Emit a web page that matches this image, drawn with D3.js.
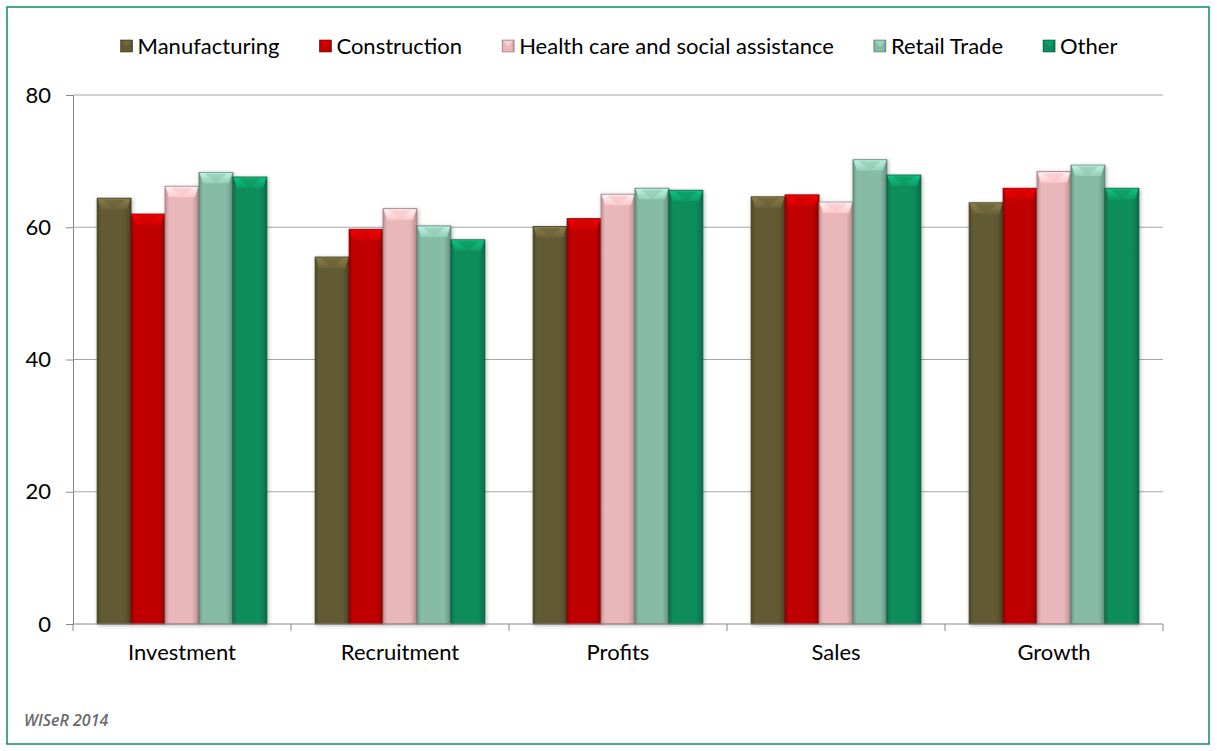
<!DOCTYPE html>
<html><head><meta charset="utf-8">
<script src="https://cdn.jsdelivr.net/npm/d3@7"></script>
<style>
html,body{margin:0;padding:0;background:#fff;}
svg{display:block;font-family:Lato,"Open Sans",sans-serif;}
</style></head>
<body>
<svg id="chart" width="1217" height="751"></svg>
<script>
const categories = ["Investment","Recruitment","Profits","Sales","Growth"];
const seriesNames = ["Manufacturing","Construction","Health care and social assistance","Retail Trade","Other"];
const manufacturing = [64.4, 55.5, 60.1, 64.6, 63.7];
const construction  = [62.0, 59.7, 61.3, 64.9, 65.9];
const healthCare    = [66.2, 62.8, 65.0, 63.8, 68.4];
const retailTrade   = [68.3, 60.2, 65.9, 70.2, 69.4];
const other         = [67.6, 58.1, 65.6, 67.9, 65.9];
const yTicks = [0, 20, 40, 60, 80];
const footnote = "WISeR 2014";

const seriesValues = [manufacturing, construction, healthCare, retailTrade, other];
const colors = ["#625a33","#c00000","#e9b6b9","#86bca5","#0b8c5c"];

const svg = d3.select("#chart");
const W = 1217, H = 751;
const m = {left:73, right:1163, top:95, bottom:624};
const FS = 22;

// outer border
svg.append("rect").attr("x",7).attr("y",7).attr("width",W-15).attr("height",H-14)
  .attr("fill","#fff").attr("stroke","#118a5e").attr("stroke-width",1.5);

const defs = svg.append("defs");
colors.forEach((c,i)=>{
  const g = defs.append("linearGradient").attr("id","g"+i).attr("x1","0").attr("x2","1").attr("y1","0").attr("y2","0");
  const base = d3.color(c);
  g.append("stop").attr("offset","0%").attr("stop-color",base.darker(0.6));
  g.append("stop").attr("offset","12%").attr("stop-color",base);
  g.append("stop").attr("offset","80%").attr("stop-color",base);
  g.append("stop").attr("offset","100%").attr("stop-color",base.darker(0.7));
  const v = defs.append("linearGradient").attr("id","v"+i).attr("x1","0").attr("x2","0").attr("y1","0").attr("y2","1");
  v.append("stop").attr("offset","0%").attr("stop-color",base.brighter(1.1));
  v.append("stop").attr("offset","100%").attr("stop-color",base.brighter(0.3));
});
const filt = defs.append("filter").attr("id","sh").attr("x","-20%").attr("y","-10%").attr("width","140%").attr("height","120%");
filt.append("feGaussianBlur").attr("in","SourceAlpha").attr("stdDeviation",2);
filt.append("feOffset").attr("dx",1).attr("dy",1).attr("result","b");
filt.append("feComponentTransfer").append("feFuncA").attr("type","linear").attr("slope",0.3);
const fm = filt.append("feMerge"); fm.append("feMergeNode"); fm.append("feMergeNode").attr("in","SourceGraphic");

const x0 = d3.scaleBand().domain(categories).range([m.left, m.right]).paddingInner(0).paddingOuter(0);
const x1 = d3.scaleBand().domain(seriesNames).range([0, x0.bandwidth()]).paddingOuter(0.71).paddingInner(0);
const y = d3.scaleLinear().domain([0,80]).range([m.bottom, m.top]);

// gridlines
svg.append("g").selectAll("line").data(yTicks.filter(t=>t>0)).join("line")
  .attr("x1",m.left).attr("x2",m.right).attr("y1",d=>y(d)).attr("y2",d=>y(d))
  .attr("stroke","#a6a6a6").attr("stroke-width",1);

// y axis
const yAxis = svg.append("g").attr("transform",`translate(${m.left},0)`)
  .call(d3.axisLeft(y).tickValues(yTicks).tickSize(7).tickPadding(15).tickFormat(d3.format("d")));
yAxis.select(".domain").attr("stroke","#888");
yAxis.selectAll(".tick line").attr("stroke","#888");
yAxis.selectAll("text").attr("font-size",FS).attr("fill","#000").attr("font-family","Lato,'Open Sans',sans-serif");

// bars
const groups = svg.append("g").selectAll("g").data(categories).join("g")
  .attr("transform",d=>`translate(${x0(d)},0)`);
groups.each(function(cat, ci){
  const g = d3.select(this);
  seriesNames.forEach((s, si)=>{
    const v = seriesValues[si][ci];
    const bx = x1(s), bw = x1.bandwidth(), by = y(v), bh = y(0)-y(v);
    const bar = g.append("g").attr("filter","url(#sh)");
    bar.append("rect").attr("x",bx).attr("y",by).attr("width",bw).attr("height",bh)
      .attr("fill",`url(#g${si})`).attr("stroke",d3.color(colors[si]).darker(1.2)).attr("stroke-width",0.8);
    const bev = 11;
    bar.append("path")
      .attr("d",`M${bx+0.5},${by+0.5} L${bx+bw-0.5},${by+0.5} L${bx+bw-4},${by+bev} L${bx+4},${by+bev} Z`)
      .attr("fill",`url(#v${si})`).attr("opacity",0.85);
    bar.append("path")
      .attr("d",`M${bx+bw*0.18},${by+1.5} L${bx+bw*0.82},${by+1.5} L${bx+bw/2},${by+bev} Z`)
      .attr("fill",d3.color(colors[si]).brighter(0.2)).attr("opacity",0.7);
  });
});

// x axis
const xAxis = svg.append("g").attr("transform",`translate(0,${m.bottom})`)
  .call(d3.axisBottom(x0).tickSize(0).tickPadding(20));
xAxis.select(".domain").attr("stroke","#888").attr("d",`M${m.left},0H${m.right}`);
xAxis.selectAll("text").attr("font-size",FS).attr("fill","#000").attr("font-family","Lato,'Open Sans',sans-serif");
const edges = categories.map(c=>x0(c)).concat([m.right]);
svg.append("g").selectAll("line").data(edges).join("line")
  .attr("x1",d=>d).attr("x2",d=>d).attr("y1",m.bottom).attr("y2",m.bottom+7).attr("stroke","#888");

// legend
const leg = svg.append("g");
const items = leg.selectAll("g").data(seriesNames).join("g");
items.append("rect").attr("width",12).attr("height",12).attr("y",-6)
  .attr("fill",(d,i)=>`url(#g${i})`).attr("stroke",(d,i)=>d3.color(colors[i]).darker(1.2)).attr("stroke-width",0.6);
items.append("path").attr("d","M1,-5 L11,-5 L6,1 Z").attr("fill",(d,i)=>d3.color(colors[i]).brighter(0.6)).attr("opacity",0.6);
items.append("text").attr("x",17).attr("dy","0.35em").attr("font-size",FS).attr("fill","#000").text(d=>d);
const GAP = 40;
let xpos = 0; const pos=[];
items.each(function(){ pos.push(xpos); xpos += this.getBBox().width + GAP; });
const total = xpos - GAP;
const start = 619 - total/2;
items.attr("transform",(d,i)=>`translate(${start+pos[i]},46)`);

// footnote
svg.append("text").attr("x",24).attr("y",726).attr("font-size",16).attr("font-style","italic").attr("font-weight",600)
  .attr("fill","#6a6a6a").attr("font-family","'Open Sans',sans-serif").text(footnote);
</script>
</body></html>
